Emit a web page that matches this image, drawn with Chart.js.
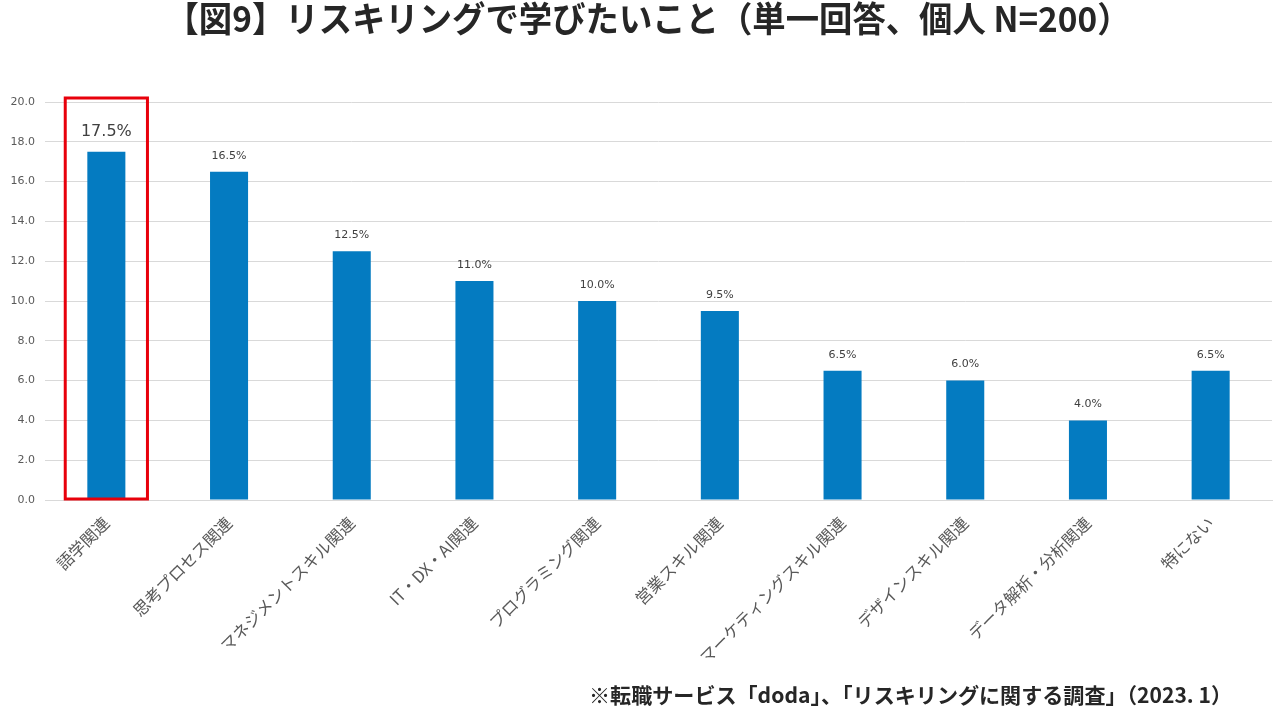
<!DOCTYPE html>
<html>
<head>
<meta charset="utf-8">
<script src="https://cdn.jsdelivr.net/npm/chart.js@4.4.1/dist/chart.umd.min.js"></script>
<style>
html,body{margin:0;padding:0;background:#fff;}
#wrap{width:1277px;height:720px;position:relative;}
</style>
</head>
<body>
<div id="wrap"><canvas id="c" width="1277" height="720"></canvas></div>
<script>
const titleText = '【図9】リスキリングで学びたいこと（単一回答、個人 N=200）';
const footnoteText = '※転職サービス「doda」、「リスキリングに関する調査」（2023. 1）';
const categories = ['語学関連','思考プロセス関連','マネジメントスキル関連','IT・DX・AI関連','プログラミング関連','営業スキル関連','マーケティングスキル関連','デザインスキル関連','データ解析・分析関連','特にない'];
const values = [17.5, 16.5, 12.5, 11.0, 10.0, 9.5, 6.5, 6.0, 4.0, 6.5];
const highlightIndex = 0;
const yMin = 0, yMax = 20, yStep = 2;

const decorPlugin = {
  id: 'decor',
  afterDraw(chart) {
    const ctx = chart.ctx;
    const xs = chart.scales.x, ys = chart.scales.y;
    const meta = chart.getDatasetMeta(0);
    ctx.save();
    // title
    ctx.fillStyle = '#262626';
    ctx.font = 'bold 35px "Noto Sans CJK JP"';
    ctx.textBaseline = 'middle';
    ctx.textAlign = 'left';
    let w = ctx.measureText(titleText).width;
    const tw = 965;
    ctx.save();
    ctx.translate(648 - tw / 2, 19);
    ctx.scale(tw / w, 1);
    ctx.fillText(titleText, 0, 0);
    ctx.restore();
    // footnote
    ctx.font = 'bold 21px "Noto Sans CJK JP"';
    w = ctx.measureText(footnoteText).width;
    const fw = 643;
    ctx.save();
    ctx.translate(1232 - fw, 695);
    ctx.scale(fw / w, 1);
    ctx.fillText(footnoteText, 0, 0);
    ctx.restore();
    // data labels
    ctx.fillStyle = '#404040';
    ctx.textAlign = 'center';
    ctx.textBaseline = 'middle';
    meta.data.forEach((bar, i) => {
      const big = i === highlightIndex;
      ctx.font = (big ? '16px' : '11px') + ' "DejaVu Sans"';
      ctx.fillText(values[i].toFixed(1) + '%', bar.x, bar.y - (big ? 20 : 16));
    });
    // highlight box
    const cx = xs.getPixelForValue(highlightIndex);
    const half = (xs.getPixelForValue(1) - xs.getPixelForValue(0)) * 0.335;
    const top = ys.getPixelForValue(yMax) - 4;
    const bottom = ys.getPixelForValue(yMin) - 1;
    ctx.strokeStyle = '#e8000b';
    ctx.lineWidth = 3;
    ctx.strokeRect(cx - half, top, half * 2, bottom - top);
    ctx.restore();
  }
};

new Chart(document.getElementById('c'), {
  type: 'bar',
  data: {
    labels: categories,
    datasets: [{
      data: values,
      backgroundColor: '#047bc1',
      barPercentage: 0.31,
      categoryPercentage: 1.0
    }]
  },
  options: {
    responsive: false,
    animation: false,
    devicePixelRatio: 1,
    layout: { padding: { top: 102, right: 5, left: 0, bottom: 10 } },
    plugins: { legend: { display: false }, tooltip: { enabled: false } },
    scales: {
      x: {
        grid: { display: false, drawTicks: false },
        border: { color: '#d9d9d9', width: 1 },
        ticks: {
          color: '#595959',
          font: { family: '"Noto Sans CJK JP"', size: 16.5 },
          maxRotation: 45, minRotation: 45, padding: 13, autoSkip: false
        },
        afterFit(s) { s.height = 210; }
      },
      y: {
        min: yMin, max: yMax,
        grid: { color: '#d9d9d9', drawTicks: false },
        border: { display: false },
        ticks: {
          stepSize: yStep,
          color: '#595959',
          padding: 10,
          font: { family: '"DejaVu Sans"', size: 11 },
          callback: v => Number(v).toFixed(1)
        },
        afterFit(s) { s.width = 45; }
      }
    }
  },
  plugins: [decorPlugin]
});
</script>
</body>
</html>
